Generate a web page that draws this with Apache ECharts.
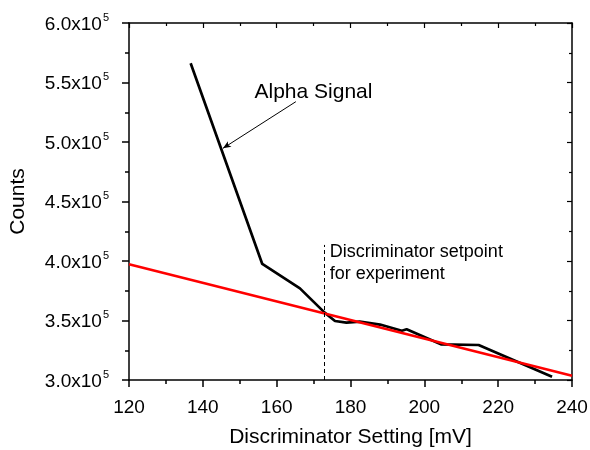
<!DOCTYPE html>
<html>
<head>
<meta charset="utf-8">
<script src="https://cdn.jsdelivr.net/npm/echarts@6/dist/echarts.min.js"></script>
<style>
html,body{margin:0;padding:0;background:#fff;}
#chart{width:590px;height:450px;}
</style>
</head>
<body>
<div id="chart"></div>
<script>
// ---- data ----
var signalX = [136.7, 156.1, 166.3, 173.0, 175.8, 178.9, 182.5, 188.0, 193.9, 195.2, 204.5, 214.7, 234.6];
var signalY = [566200, 397500, 377000, 356600, 349600, 348200, 349000, 346600, 341400, 342600, 330000, 329400, 302800];
var fitX = [120, 240];
var fitY = [397200, 303600];
var setpointX = 172.8;
var setpointTopY = 413500;
var arrowFrom = [165.2, 533900];
var arrowTo = [145.45, 494700];
var alphaLabelPos = [154.0, 541600];
var setpointLabelPos = [174.4, 398500];
var xTicks = [120, 140, 160, 180, 200, 220, 240];
var yTicks = [300000, 350000, 400000, 450000, 500000, 550000, 600000];

var FONT = '"Liberation Sans", Arial, sans-serif';
var chart = echarts.init(document.getElementById('chart'));

function pairs(xs, ys) { return xs.map(function (x, i) { return [x, ys[i]]; }); }

var xMin = xTicks[0], xMax = xTicks[xTicks.length - 1];
var yMin = yTicks[0], yMax = yTicks[yTicks.length - 1];

var option = {
  animation: false,
  backgroundColor: '#fff',
  textStyle: { fontFamily: FONT },
  grid: { left: 129, right: 18, top: 23, height: 357, containLabel: false, outerBoundsMode: 'none' },
  xAxis: [{
    type: 'value', min: xMin, max: xMax, interval: 20,
    name: 'Discriminator Setting [mV]', nameLocation: 'middle', nameGap: 47,
    nameTextStyle: { fontSize: 21, color: '#000', fontFamily: FONT },
    axisLine: { lineStyle: { color: '#000', width: 1.5 } },
    axisTick: { inside: false, length: 7, lineStyle: { color: '#000', width: 1.5 } },
    minorTick: { show: true, splitNumber: 2, length: 4, lineStyle: { color: '#000', width: 1.5 } },
    axisLabel: { fontSize: 19, color: '#000', margin: 18, fontFamily: FONT },
    splitLine: { show: false }
  }, {
    type: 'value', position: 'top', min: xMin, max: xMax, interval: 20,
    axisLine: { lineStyle: { color: '#000', width: 1.5 } },
    axisTick: { inside: true, length: 5, lineStyle: { color: '#000', width: 1.2 } },
    minorTick: { show: true, splitNumber: 2, length: 3, lineStyle: { color: '#000', width: 1.2 } },
    axisLabel: { show: false },
    splitLine: { show: false }
  }],
  yAxis: [{
    type: 'value', min: yMin, max: yMax, interval: 50000,
    name: 'Counts', nameLocation: 'middle', nameGap: 100,
    nameTextStyle: { fontSize: 21, color: '#000', fontFamily: FONT },
    axisLine: { show: true, lineStyle: { color: '#000', width: 1.5 } },
    axisTick: { show: true, inside: false, length: 7, lineStyle: { color: '#000', width: 1.5 } },
    minorTick: { show: true, splitNumber: 2, length: 4, lineStyle: { color: '#000', width: 1.5 } },
    axisLabel: {
      margin: 20, color: '#000',
      formatter: function (v) { return '{a|' + (v / 1e5).toFixed(1) + 'x10}{b|5}'; },
      rich: {
        a: { fontSize: 19, color: '#000', fontFamily: FONT, lineHeight: 22, verticalAlign: 'bottom' },
        b: { fontSize: 11, color: '#000', fontFamily: FONT, lineHeight: 11, verticalAlign: 'top', padding: [0, 0, 9, 1] }
      }
    },
    splitLine: { show: false }
  }, {
    type: 'value', position: 'right', min: yMin, max: yMax, interval: 50000,
    axisLine: { show: true, lineStyle: { color: '#000', width: 1.5 } },
    axisTick: { show: true, inside: true, length: 5, lineStyle: { color: '#000', width: 1.2 } },
    minorTick: { show: true, splitNumber: 2, length: 3, lineStyle: { color: '#000', width: 1.2 } },
    axisLabel: { show: false },
    splitLine: { show: false }
  }],
  series: [{
    type: 'line', name: 'fit', data: pairs(fitX, fitY),
    showSymbol: false, symbol: 'none',
    lineStyle: { color: '#ff0000', width: 2.5 }, z: 3
  }, {
    type: 'line', name: 'signal', data: pairs(signalX, signalY),
    showSymbol: false, symbol: 'none',
    lineStyle: { color: '#000', width: 2.7 }, z: 2,
    markLine: {
      silent: true, animation: false,
      label: { show: false },
      data: [
        [{ coord: [setpointX, yMin], symbol: 'none' },
         { coord: [setpointX, setpointTopY], symbol: 'none', lineStyle: { color: '#000', width: 1, type: [4, 3] } }],
        [{ coord: arrowFrom, symbol: 'none' },
         { coord: arrowTo, symbol: 'arrow', symbolSize: [5, 8], lineStyle: { color: '#000', width: 1, type: 'solid' } }]
      ],
      lineStyle: { color: '#000', width: 1 }
    },
    markPoint: {
      silent: true, symbol: 'circle', symbolSize: 0,
      data: [
        { coord: alphaLabelPos, label: { show: true, formatter: 'Alpha Signal', position: [0, 0], align: 'left', verticalAlign: 'middle', fontSize: 21, color: '#000', fontFamily: FONT } },
        { coord: setpointLabelPos, label: { show: true, formatter: 'Discriminator setpoint\nfor experiment', position: [0, 0], align: 'left', verticalAlign: 'middle', fontSize: 18, lineHeight: 22, color: '#000', fontFamily: FONT } }
      ]
    }
  }]
};
chart.setOption(option);
</script>
</body>
</html>
